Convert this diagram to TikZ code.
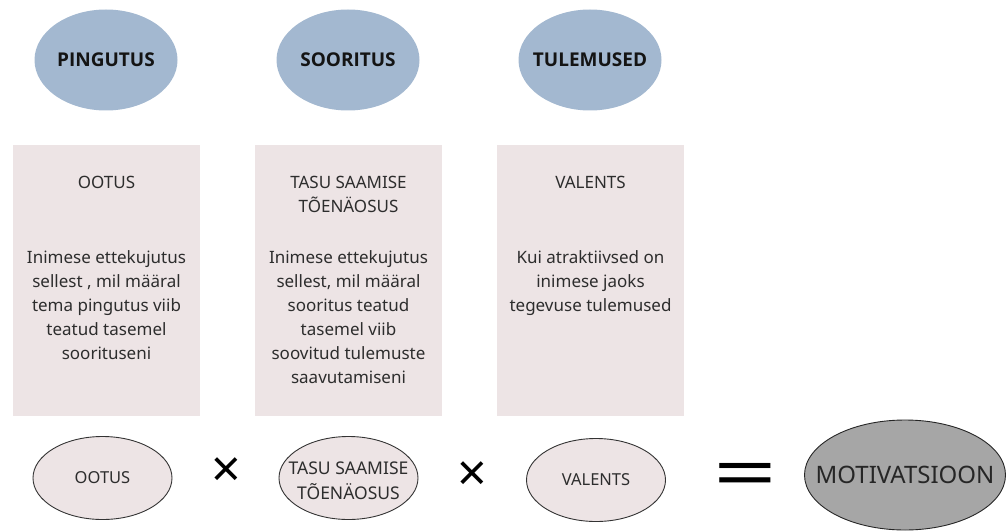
\documentclass[tikz,border=0pt]{standalone}
\usepackage{fontspec}
\setmainfont{Noto Sans}
\newfontfamily\boldfam{Open Sans}
\usetikzlibrary{shapes.geometric}
\definecolor{topblue}{RGB}{163,184,208}
\definecolor{boxpink}{RGB}{237,228,229}
\definecolor{motgray}{RGB}{166,166,166}
\definecolor{txt}{RGB}{45,45,45}
\begin{document}
\begin{tikzpicture}[x=1pt,y=-1pt,
 topell/.style={ellipse, fill=topblue, minimum width=143pt, minimum height=101pt, inner sep=0pt},
 toplbl/.style={inner sep=0pt, font=\fontsize{19}{23}\boldfam\bfseries, text=black!92},
 panel/.style={fill=boxpink, minimum width=187pt, minimum height=271pt, inner sep=0pt},
 head/.style={align=center, font=\fontsize{17}{24}\selectfont, text=txt, inner sep=0pt},
 body/.style={align=center, anchor=north, font=\fontsize{17}{24}\selectfont, text=txt, inner sep=0pt},
 botell/.style={ellipse, draw=black!80, line width=0.9pt, fill=boxpink, minimum width=139pt, minimum height=83pt, inner sep=0pt},
 botlbl/.style={inner sep=0pt, align=center, font=\fontsize{16.5}{25}\selectfont, text=txt},
 op/.style={inner sep=0pt, text=black}]
\useasboundingbox (0,0) rectangle (1008,532);
% top ellipses
\node[topell] (ping) at (106,60) {};
\node[toplbl] (pingl) at (ping.center) {PINGUTUS};
\node[topell] (soor) at (348,60) {};
\node[toplbl] (soorl) at (soor.center) {SOORITUS};
\node[topell] (tul) at (590,60) {};
\node[toplbl] (tull) at (tul.center) {TULEMUSED};
% panels
\node[panel] (p1) at (106.5,280.5) {};
\node[panel] (p2) at (348.5,280.5) {};
\node[panel] (p3) at (590.5,280.5) {};
\node[head] (h1) at (106.5,182) {OOTUS};
\node[head] (h2) at (348.5,194) {TASU SAAMISE\\TÕENÄOSUS};
\node[head] (h3) at (590.5,182) {VALENTS};
\node[body] (t1) at (106.5,250.5) {Inimese ettekujutus\\sellest , mil määral\\tema pingutus viib\\teatud tasemel\\soorituseni};
\node[body] (t2) at (348.5,250.5) {Inimese ettekujutus\\sellest, mil määral\\sooritus teatud\\tasemel viib\\soovitud tulemuste\\saavutamiseni};
\node[body] (t3) at (590.5,250.5) {Kui atraktiivsed on\\inimese jaoks\\tegevuse tulemused};
% bottom row
\node[botell] (b1) at (102.5,478) {};
\node[botlbl] (b1l) at (b1.center) {OOTUS};
\node[op, font=\fontsize{52}{52}\selectfont] (x1) at (226,473) {×};
\node[botell] (b2) at (348.5,478) {};
\node[botlbl, font=\fontsize{17.5}{25}\selectfont] (b2l) at ([yshift=-3pt]b2.center) {TASU SAAMISE\\TÕENÄOSUS};
\node[op, font=\fontsize{52}{52}\selectfont] (x2) at (472,477) {×};
\node[botell] (b3) at (596,480) {};
\node[botlbl] (b3l) at (b3.center) {VALENTS};
\node[op, font=\fontsize{72}{72}\selectfont, xscale=1.55] (eq) at (745,481) {=};
\node[ellipse, draw=black!85, line width=0.9pt, fill=motgray, minimum width=201pt, minimum height=110pt, inner sep=0pt] (mot) at (905,475) {};
\node[inner sep=0pt, font=\fontsize{24}{28}\selectfont, text=black!85] (motl) at (mot.center) {MOTIVATSIOON};
\end{tikzpicture}
\end{document}
